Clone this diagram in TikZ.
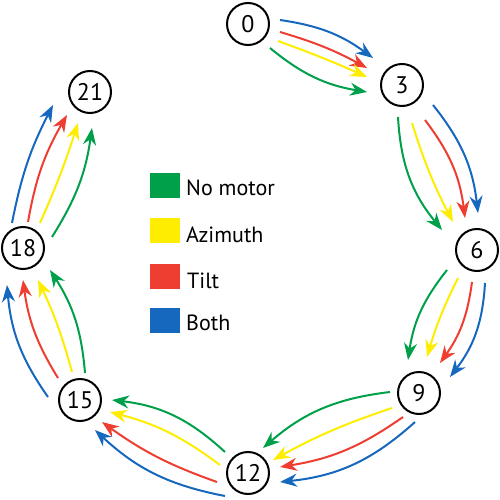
\documentclass[tikz,border=0pt]{standalone}
\usepackage{fontspec}
\setmainfont{PT Sans}
\usetikzlibrary{arrows.meta}
\definecolor{cgreen}{RGB}{0,160,75}
\definecolor{cyellow}{RGB}{255,237,0}
\definecolor{cred}{RGB}{238,62,50}
\definecolor{cblue}{RGB}{22,104,190}
\tikzset{
  state/.style={circle,draw=black,line width=2pt,minimum size=42pt,inner sep=0pt,font=\fontsize{24}{24}\selectfont},
  arr/.style={line width=2pt,-{Stealth[length=17pt,width=13pt,inset=5.5pt]}},
  ga/.style={arr,draw=cgreen},
  ya/.style={arr,draw=cyellow},
  ra/.style={arr,draw=cred},
  ba/.style={arr,draw=cblue},
  key/.style={minimum width=30pt,minimum height=25pt,inner sep=0pt},
  keytext/.style={anchor=base west,inner sep=0pt,font=\fontsize{22}{22}\selectfont}
}
\begin{document}
\begin{tikzpicture}[x=1pt,y=-1pt]
\useasboundingbox (0,0) rectangle (500,500);
\node[state] (n0) at (248,24) {0};
\node[state] (n3) at (402,85) {3};
\node[state] (n6) at (477,250) {6};
\node[state] (n9) at (419,393) {9};
\node[state] (n12) at (248,473) {12};
\node[state] (n15) at (80,400) {15};
\node[state] (n18) at (23,248) {18};
\node[state] (n21) at (90,92) {21};
% 0 -> 3
\draw[ba] ([shift={(32,-4)}]n0.center) to[bend left=14] ([shift={(-29,-27)}]n3.center);
\draw[ra] ([shift={(32,8)}]n0.center) to[bend left=6] ([shift={(-35,-17)}]n3.center);
\draw[ya] ([shift={(30,17)}]n0.center) to[bend left=2] ([shift={(-35,-8)}]n3.center);
\draw[ga] ([shift={(22,24)}]n0.center) to[bend right=15] ([shift={(-35,7)}]n3.center);
% 3 -> 6
\draw[ga] ([shift={(-4,32)}]n3.center) to[bend right=18] ([shift={(-35,-20)}]n6.center);
\draw[ya] ([shift={(10,38)}]n3.center) to[bend right=5] ([shift={(-24,-28)}]n6.center);
\draw[ra] ([shift={(23,35)}]n3.center) to[bend left=15] ([shift={(-12,-32)}]n6.center);
\draw[ba] ([shift={(31,20)}]n3.center) to[bend left=16] ([shift={(1,-37)}]n6.center);
% 6 -> 9
\draw[ga] ([shift={(-30,20)}]n6.center) to[bend right=15] ([shift={(-11,-33)}]n9.center);
\draw[ya] ([shift={(-19,28)}]n6.center) to[bend right=5] ([shift={(8,-36)}]n9.center);
\draw[ra] ([shift={(-5,32)}]n6.center) to[bend left=14] ([shift={(21,-30)}]n9.center);
\draw[ba] ([shift={(8,33)}]n6.center) to[bend left=17] ([shift={(31,-16)}]n9.center);
% 9 -> 12
\draw[ga] ([shift={(-29,-1)}]n9.center) to[bend right=17] ([shift={(15,-25)}]n12.center);
\draw[ya] ([shift={(-27,15)}]n9.center) to[bend right=5] ([shift={(25,-13)}]n12.center);
\draw[ra] ([shift={(-16,24)}]n9.center) to[bend left=13] ([shift={(32,-6)}]n12.center);
\draw[ba] ([shift={(-4,29)}]n9.center) to[bend left=18] ([shift={(32,9)}]n12.center);
% 12 -> 15
\draw[ga] ([shift={(-23,-21)}]n12.center) to[bend right=18] ([shift={(32,0)}]n15.center);
\draw[ya] ([shift={(-28,-8)}]n12.center) to[bend right=11] ([shift={(30,12)}]n15.center);
\draw[ra] ([shift={(-31,9)}]n12.center) to[bend left=8] ([shift={(22,22)}]n15.center);
\draw[ba] ([shift={(-23,23)}]n12.center) to[bend left=16] ([shift={(15,30)}]n15.center);
% 15 -> 18
\draw[ga] ([shift={(5,-27)}]n15.center) to[bend right=14] ([shift={(27,22)}]n18.center);
\draw[ya] ([shift={(-8,-28)}]n15.center) to[bend right=5] ([shift={(15,32)}]n18.center);
\draw[ra] ([shift={(-22,-22)}]n15.center) to[bend left=12] ([shift={(0,32)}]n18.center);
\draw[ba] ([shift={(-32,-3)}]n15.center) to[bend left=15] ([shift={(-16,37)}]n18.center);
% 18 -> 21
\draw[ga] ([shift={(29,-11)}]n18.center) to[bend right=12] ([shift={(2,36)}]n21.center);
\draw[ya] ([shift={(17,-25)}]n18.center) to[bend right=3] ([shift={(-12,31)}]n21.center);
\draw[ra] ([shift={(5,-26)}]n18.center) to[bend left=10] ([shift={(-23,23)}]n21.center);
\draw[ba] ([shift={(-11,-25)}]n18.center) to[bend left=8] ([shift={(-37,13)}]n21.center);
% legend
\node[key,fill=cgreen] (kg) at (165,185.5) {};
\node[key,fill=cyellow] (ky) at (165,230) {};
\node[key,fill=cred] (kr) at (165,276.5) {};
\node[key,fill=cblue] (kb) at (165,320.5) {};
\node[keytext] (tg) at (186,195) {No motor};
\node[keytext] (ty) at (186,242) {Azimuth};
\node[keytext] (tr) at (187,288) {Tilt};
\node[keytext] (tb) at (186,330) {Both};
\end{tikzpicture}
\end{document}
